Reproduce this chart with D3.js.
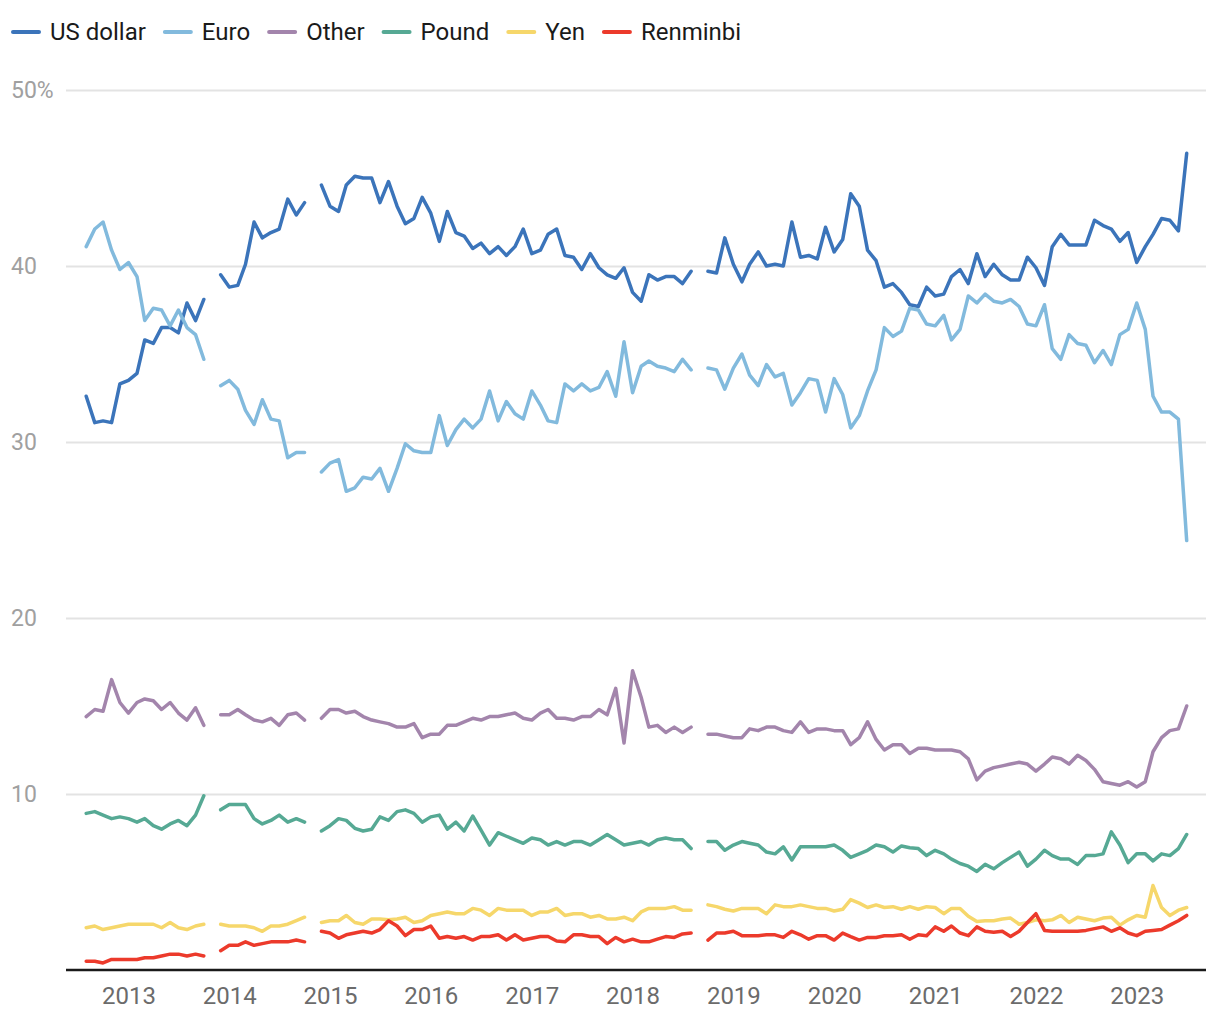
<!DOCTYPE html>
<html>
<head>
<meta charset="utf-8">
<script src="https://cdn.jsdelivr.net/npm/d3@7/dist/d3.min.js"></script>
<style>
  html, body { margin: 0; padding: 0; background: #fff; }
  svg { display: block; font-family: Roboto, "Noto Sans", sans-serif; }
</style>
</head>
<body>
<svg id="chart" width="1220" height="1020"></svg>
<script>
// ---- Data (monthly, Aug 2012 – Jul 2023; null = gap) ----
const startMonth = "2012-08-01";
const endMonth = "2023-07-01";

const seriesNames = ["US dollar", "Euro", "Other", "Pound", "Yen", "Renminbi"];
const seriesColors = ["#3b74ba", "#82badd", "#a385ac", "#56a994", "#f6d76b", "#ec3a2b"];

const yTicks = [10, 20, 30, 40, 50];
const yTickLabels = ["10", "20", "30", "40", "50%"];
const xTickYears = [2013, 2014, 2015, 2016, 2017, 2018, 2019, 2020, 2021, 2022, 2023];

const usDollar = [
  32.6, 31.1, 31.2, 31.1, 33.3, 33.5, 33.9, 35.8, 35.6, 36.5, 36.5, 36.2, 37.9, 36.9, 38.1,
  null,
  39.5, 38.8, 38.9, 40.1, 42.5, 41.6, 41.9, 42.1, 43.8, 42.9, 43.6,
  null,
  44.6, 43.4, 43.1, 44.6, 45.1, 45.0, 45.0, 43.6, 44.8, 43.4, 42.4, 42.7, 43.9, 43.0, 41.4,
  43.1, 41.9, 41.7, 41.0, 41.3, 40.7, 41.1, 40.6, 41.1, 42.1, 40.7, 40.9, 41.8, 42.1, 40.6,
  40.5, 39.8, 40.7, 39.9, 39.5, 39.3, 39.9, 38.5, 38.0, 39.5, 39.2, 39.4, 39.4, 39.0, 39.7,
  null,
  39.7, 39.6, 41.6, 40.1, 39.1, 40.1, 40.8, 40.0, 40.1, 40.0, 42.5, 40.5, 40.6, 40.4, 42.2,
  40.8, 41.5, 44.1, 43.4, 40.9, 40.3, 38.8, 39.0, 38.5, 37.8, 37.7, 38.8, 38.3, 38.4, 39.4,
  39.8, 39.0, 40.7, 39.4, 40.1, 39.5, 39.2, 39.2, 40.5, 39.9, 38.9, 41.1, 41.8, 41.2, 41.2,
  41.2, 42.6, 42.3, 42.1, 41.4, 41.9, 40.2, 41.1, 41.8, 42.7, 42.6, 42.0, 46.4
];

const euro = [
  41.1, 42.1, 42.5, 40.9, 39.8, 40.2, 39.4, 36.9, 37.6, 37.5, 36.6, 37.5, 36.5, 36.1, 34.7,
  null,
  33.2, 33.5, 33.0, 31.8, 31.0, 32.4, 31.3, 31.2, 29.1, 29.4, 29.4,
  null,
  28.3, 28.8, 29.0, 27.2, 27.4, 28.0, 27.9, 28.5, 27.2, 28.5, 29.9, 29.5, 29.4, 29.4, 31.5,
  29.8, 30.7, 31.3, 30.8, 31.3, 32.9, 31.2, 32.3, 31.6, 31.3, 32.9, 32.1, 31.2, 31.1, 33.3,
  32.9, 33.3, 32.9, 33.1, 34.0, 32.6, 35.7, 32.8, 34.3, 34.6, 34.3, 34.2, 34.0, 34.7, 34.1,
  null,
  34.2, 34.1, 33.0, 34.2, 35.0, 33.8, 33.2, 34.4, 33.7, 33.9, 32.1, 32.8, 33.6, 33.5, 31.7,
  33.6, 32.7, 30.8, 31.5, 32.9, 34.1, 36.5, 36.0, 36.3, 37.6, 37.5, 36.7, 36.6, 37.2, 35.8,
  36.4, 38.3, 37.9, 38.4, 38.0, 37.9, 38.1, 37.7, 36.7, 36.6, 37.8, 35.3, 34.7, 36.1, 35.6,
  35.5, 34.5, 35.2, 34.4, 36.1, 36.4, 37.9, 36.4, 32.6, 31.7, 31.7, 31.3, 24.4
];

const other = [
  14.4, 14.8, 14.7, 16.5, 15.2, 14.6, 15.2, 15.4, 15.3, 14.8, 15.2, 14.6, 14.2, 14.9, 13.9,
  null,
  14.5, 14.5, 14.8, 14.5, 14.2, 14.1, 14.3, 13.9, 14.5, 14.6, 14.2,
  null,
  14.3, 14.8, 14.8, 14.6, 14.7, 14.4, 14.2, 14.1, 14.0, 13.8, 13.8, 14.0, 13.2, 13.4, 13.4,
  13.9, 13.9, 14.1, 14.3, 14.2, 14.4, 14.4, 14.5, 14.6, 14.3, 14.2, 14.6, 14.8, 14.3, 14.3,
  14.2, 14.4, 14.4, 14.8, 14.5, 16.0, 12.9, 17.0, 15.5, 13.8, 13.9, 13.5, 13.8, 13.5, 13.8,
  null,
  13.4, 13.4, 13.3, 13.2, 13.2, 13.7, 13.6, 13.8, 13.8, 13.6, 13.5, 14.1, 13.5, 13.7, 13.7,
  13.6, 13.6, 12.8, 13.2, 14.1, 13.1, 12.5, 12.8, 12.8, 12.3, 12.6, 12.6, 12.5, 12.5, 12.5,
  12.4, 12.0, 10.8, 11.3, 11.5, 11.6, 11.7, 11.8, 11.7, 11.3, 11.7, 12.1, 12.0, 11.7, 12.2,
  11.9, 11.4, 10.7, 10.6, 10.5, 10.7, 10.4, 10.7, 12.4, 13.2, 13.6, 13.7, 15.0
];

const pound = [
  8.9, 9.0, 8.8, 8.6, 8.7, 8.6, 8.4, 8.6, 8.2, 8.0, 8.3, 8.5, 8.2, 8.8, 9.9,
  null,
  9.1, 9.4, 9.4, 9.4, 8.6, 8.3, 8.5, 8.8, 8.4, 8.6, 8.4,
  null,
  7.9, 8.2, 8.6, 8.5, 8.05, 7.9, 8.0, 8.7, 8.5, 9.0, 9.1, 8.9, 8.4, 8.7, 8.8,
  8.0, 8.4, 7.9, 8.75, 7.95, 7.1, 7.8, 7.6, 7.4, 7.2, 7.5, 7.4, 7.1, 7.3, 7.1,
  7.3, 7.3, 7.1, 7.4, 7.7, 7.4, 7.1, 7.2, 7.3, 7.1, 7.4, 7.5, 7.4, 7.4, 6.9,
  null,
  7.3, 7.3, 6.8, 7.1, 7.3, 7.2, 7.1, 6.7, 6.6, 7.0, 6.25, 7.0, 7.0, 7.0, 7.0,
  7.1, 6.8, 6.4, 6.6, 6.8, 7.1, 7.0, 6.7, 7.05, 6.95, 6.9, 6.5, 6.8, 6.6, 6.3,
  6.05, 5.9, 5.6, 6.0, 5.75, 6.1, 6.4, 6.7, 5.9, 6.3, 6.8, 6.5, 6.3, 6.3, 6.0,
  6.5, 6.5, 6.6, 7.85, 7.1, 6.1, 6.6, 6.6, 6.2, 6.6, 6.5, 6.9, 7.7
];

const yen = [
  2.4, 2.5, 2.3, 2.4, 2.5, 2.6, 2.6, 2.6, 2.6, 2.4, 2.7, 2.4, 2.3, 2.5, 2.6,
  null,
  2.6, 2.5, 2.5, 2.5, 2.4, 2.2, 2.5, 2.5, 2.6, 2.8, 3.0,
  null,
  2.7, 2.8, 2.8, 3.1, 2.7, 2.6, 2.9, 2.9, 2.85, 2.9, 3.0, 2.7, 2.8, 3.1, 3.2,
  3.3, 3.2, 3.2, 3.5, 3.4, 3.1, 3.5, 3.4, 3.4, 3.4, 3.1, 3.3, 3.3, 3.5, 3.1,
  3.2, 3.2, 3.0, 3.1, 2.9, 2.9, 3.0, 2.8, 3.3, 3.5, 3.5, 3.5, 3.6, 3.4, 3.4,
  null,
  3.7, 3.6, 3.45, 3.35, 3.5, 3.5, 3.5, 3.2, 3.7, 3.6, 3.6, 3.7, 3.6, 3.5, 3.5,
  3.35, 3.45, 4.0, 3.8, 3.55, 3.7, 3.55, 3.6, 3.45, 3.6, 3.45, 3.6, 3.55, 3.2, 3.5,
  3.5, 3.05, 2.75, 2.8, 2.8, 2.9, 2.95, 2.6, 2.7, 2.85, 2.8, 2.85, 3.1, 2.7, 3.0,
  2.9, 2.8, 2.95, 3.0, 2.55, 2.85, 3.1, 3.0, 4.8, 3.55, 3.1, 3.4, 3.55
];

const renminbi = [
  0.5, 0.5, 0.4, 0.6, 0.6, 0.6, 0.6, 0.7, 0.7, 0.8, 0.9, 0.9, 0.8, 0.9, 0.8,
  null,
  1.1, 1.4, 1.4, 1.6, 1.4, 1.5, 1.6, 1.6, 1.6, 1.7, 1.6,
  null,
  2.2, 2.1, 1.8, 2.0, 2.1, 2.2, 2.1, 2.3, 2.8, 2.5, 1.95, 2.3, 2.3, 2.5, 1.8,
  1.9, 1.8, 1.9, 1.7, 1.9, 1.9, 2.0, 1.7, 2.0, 1.7, 1.8, 1.9, 1.9, 1.65, 1.6,
  2.0, 2.0, 1.9, 1.9, 1.5, 1.85, 1.6, 1.75, 1.6, 1.6, 1.75, 1.9, 1.85, 2.05, 2.1,
  null,
  1.7, 2.1, 2.1, 2.2, 1.95, 1.95, 1.95, 2.0, 2.0, 1.85, 2.2, 2.0, 1.75, 1.95, 1.95,
  1.7, 2.1, 1.9, 1.7, 1.85, 1.85, 1.95, 1.95, 2.0, 1.75, 2.0, 1.95, 2.45, 2.2, 2.5,
  2.1, 1.95, 2.45, 2.2, 2.15, 2.2, 1.9, 2.2, 2.7, 3.2, 2.25, 2.2, 2.2, 2.2, 2.2,
  2.25, 2.35, 2.45, 2.2, 2.4, 2.1, 1.95, 2.2, 2.25, 2.3, 2.55, 2.8, 3.1
];

const seriesValues = [usDollar, euro, other, pound, yen, renminbi];

// ---- Chart ----
const svg = d3.select("#chart");
const months = d3.utcMonth.range(new Date(startMonth), d3.utcMonth.offset(new Date(endMonth), 1));

const plotLeft = 66, plotRight = 1206;
const x = d3.scaleUtc()
  .domain([months[0], months[months.length - 1]])
  .range([86.2, 1186.7]);
const y = d3.scaleLinear().domain([0, 50]).range([970, 90]);

// Gridlines + y labels
const yAxis = d3.axisLeft(y)
  .tickValues(yTicks)
  .tickFormat((d, i) => yTickLabels[i])
  .tickSize(-(plotRight - plotLeft));
const gy = svg.append("g")
  .attr("transform", `translate(${plotLeft},0)`)
  .call(yAxis);
gy.select(".domain").remove();
gy.selectAll(".tick line").attr("stroke", "#e3e3e3").attr("stroke-width", 2);
gy.selectAll(".tick text")
  .attr("x", 11 - plotLeft)
  .attr("text-anchor", "start")
  .attr("fill", "#a0a0a0")
  .style("font-size", "23px")
  .style("font-family", "Roboto, sans-serif");

// Baseline
svg.append("line")
  .attr("x1", plotLeft).attr("x2", plotRight)
  .attr("y1", y(0)).attr("y2", y(0))
  .attr("stroke", "#1a1a1a").attr("stroke-width", 2.5);

// X axis labels
const xAxis = d3.axisBottom(x)
  .tickValues(xTickYears.map(yr => new Date(Date.UTC(yr, 0, 1))))
  .tickFormat(d3.utcFormat("%Y"))
  .tickSize(0)
  .tickPadding(17);
const gx = svg.append("g")
  .attr("transform", `translate(0,${y(0)})`)
  .call(xAxis);
gx.select(".domain").remove();
gx.selectAll(".tick text")
  .attr("fill", "#6b6b6b")
  .style("font-size", "24px")
  .style("font-family", "Roboto, sans-serif");

// Lines
const line = d3.line()
  .defined(d => d.v !== null)
  .x(d => x(d.date))
  .y(d => y(d.v));

seriesValues.forEach((vals, si) => {
  const pts = vals.map((v, i) => ({ date: months[i], v }));
  svg.append("path")
    .datum(pts)
    .attr("fill", "none")
    .attr("stroke", seriesColors[si])
    .attr("stroke-width", 3.5)
    .attr("stroke-linejoin", "round")
    .attr("stroke-linecap", "round")
    .attr("d", line);
});

// Legend
const legend = svg.append("g").attr("transform", "translate(12,32)");
let lx = 0;
seriesNames.forEach((name, i) => {
  const g = legend.append("g").attr("transform", `translate(${lx},0)`);
  g.append("line")
    .attr("x1", 1).attr("x2", 27)
    .attr("y1", 0).attr("y2", 0)
    .attr("stroke", seriesColors[i])
    .attr("stroke-width", 4)
    .attr("stroke-linecap", "round");
  const t = g.append("text")
    .attr("x", 38).attr("y", 0)
    .attr("dy", "0.35em")
    .attr("fill", "#1a1a1a")
    .style("font-size", "24px")
    .text(name);
  lx += 38 + t.node().getComputedTextLength() + 18;
});
</script>
</body>
</html>
